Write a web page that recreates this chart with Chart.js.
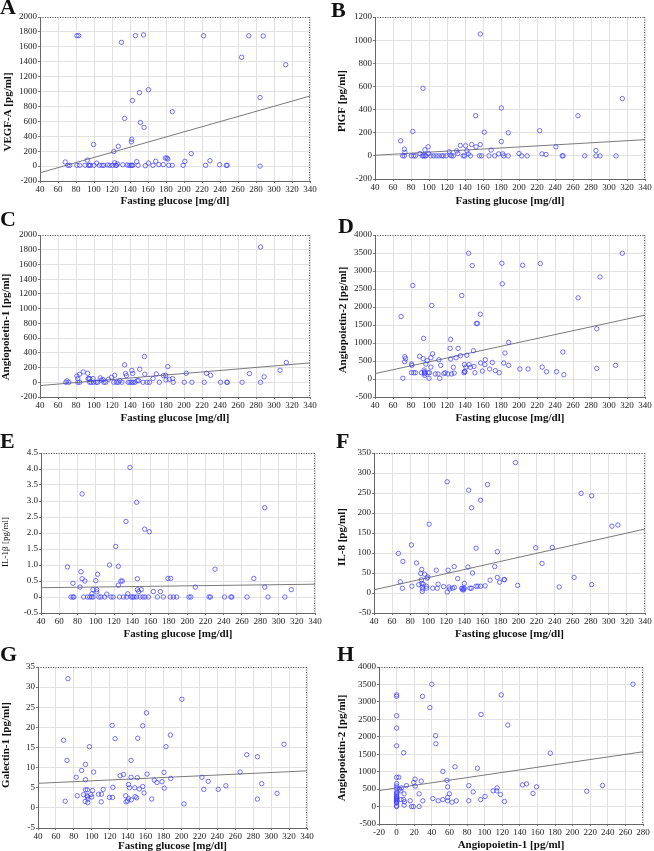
<!DOCTYPE html>
<html>
<head>
<meta charset="utf-8">
<script src="https://cdn.jsdelivr.net/npm/chart.js@4.4.1/dist/chart.umd.min.js"></script>
<style>
  body { margin: 0; background: #fff; }
  #app { position: relative; width: 654px; height: 851px; overflow: hidden; }
  #app canvas { position: absolute; }
  .tag { position: absolute; font: bold 22px "Liberation Serif", serif; color: #111; line-height: 1; }
</style>
</head>
<body>
<div id="app"></div>
<script>
// --- data: [x, y] per patient ---
const glucoseTicks = [40, 60, 80, 100, 120, 140, 160, 180, 200, 220, 240, 260, 280, 300, 320, 340];
const ang1Ticks = [-20, 0, 20, 40, 60, 80, 100, 120, 140, 160, 180, 200, 220, 240, 260, 280];

const vegfTicks = [-200, 0, 200, 400, 600, 800, 1000, 1200, 1400, 1600, 1800, 2000];
const plgfTicks = [-200, 0, 200, 400, 600, 800, 1000, 1200];
const ang1YTicks = [-200, 0, 200, 400, 600, 800, 1000, 1200, 1400, 1600, 1800, 2000];
const ang2Ticks = [-500, 0, 500, 1000, 1500, 2000, 2500, 3000, 3500, 4000];
const il1Ticks = [-0.5, 0, 0.5, 1, 1.5, 2, 2.5, 3, 3.5, 4, 4.5];
const il8Ticks = [-50, 0, 50, 100, 150, 200, 250, 300, 350];
const galTicks = [-5, 0, 5, 10, 15, 20, 25, 30, 35];

const vegfPoints = [[68,55],[71,10],[73,10],[81,1750],[83,1750],[81,10],[84,10],[90,10],[92.5,80],[94,10],[95,10],[96,10],
  [99.5,290],[100,10],[103,40],[106,10],[109,10],[111,10],[115,15],[117.6,10],[120.5,10],[122,195],[123,45],[124,10],
  [125,10],[126,30],[127,265],[130.5,1660],[132,18],[134,640],[137,15],[139,10],[141,10],[142,10],[143,10],[141.5,325],
  [142,360],[142.7,880],[146,1750],[147.5,60],[149,10],[150.5,985],[151.6,585],[155,1760],[155.6,520],[157,5],
  [160.5,1025],[160.5,40],[165.6,10],[168.5,65],[172,20],[177,20],[179.3,108],[181,108],[182,95],[183,10],[187,10],
  [187,730],[199,10],[201,63],[208,167],[221.7,1748],[224,10],[228.8,72],[239.5,18],[247,10],[248,10],[264,1460],
  [272,1748],[284.5,920],[284.5,0],[288,1745],[313,1360]];
const vegfFit = [[40,-90],[340,940]];

const plgfPoints = [[68.5,130],[70.7,0],[72.6,0],[72.6,58],[73.3,30],[82,211],[80.5,0],[83,0],[85,0],[90,20],[93.3,584],
  [92.5,0],[94,0],[95.5,0],[96.5,0],[95.5,52],[99,78],[99.5,20],[102,0],[105,0],[108,0],[111,0],[114,0],[116,0],[119,0],
  [122.6,35],[123.5,8],[125,0],[127,0],[130.7,43],[132,20],[134.8,90],[138,0],[139.5,0],[140.7,87],[142.2,43],
  [143.7,17],[146,0],[147.4,98],[151.8,347],[152.2,78],[156,0],[158.5,0],[157,1053],[157,98],[161.5,205],[166.7,0],
  [169,50],[173,0],[177.4,17],[180.4,414],[180.4,124],[182,17],[183,0],[188,200],[188,0],[200,20],[203,0],[209,0],
  [223,217],[225.5,17],[230,12],[241,78],[248,0],[249,0],[265.5,347],[273,0],[285.5,46],[285.5,0],[290,0],[307.8,0],
  [314.8,495]];
const plgfFit = [[40,5],[340,140]];

const ang1Points = [[68.7,0],[70,20],[72,0],[81,85],[82,0],[82,50],[84,0],[84,110],[88,140],[93,122],[93.5,50],
  [94.3,50],[95.3,50],[95.3,0],[97,0],[99,50],[99.6,0],[102.5,0],[104,0],[107,60],[108,30],[110,36],[111,0],[113,0],
  [116,40],[119.5,68],[122,0],[123,95],[125,0],[127,0],[128.7,22],[131,0],[134,236],[135,118],[136,90],[138,0],[140,0],
  [142,0],[143.5,0],[142,160],[143,120],[145.6,0],[148,22],[149.5,22],[150.8,177],[154.5,0],[156,350],[156.4,110],
  [159,0],[161.7,0],[165.6,50],[169.3,113],[172.6,0],[177,90],[179.6,95],[182,213],[180,32],[183.7,40],[187.4,50],
  [188,0],[200.3,0],[202.5,122],[208.8,0],[222.5,0],[225,122],[229.5,95],[240.6,0],[247.5,0],[248.2,0],[264.6,0],
  [272.7,118],[285,1837],[285,0],[289,73],[306.7,163],[313.7,268]];
const ang1Fit = [[40,-45],[340,263]];

const ang2Points = [[69,1737],[71,20],[73,620],[73,480],[74,565],[80.5,415],[81,380],[82,2597],[80.5,175],[83,175],
  [85,175],[89.5,630],[91.6,175],[94,1128],[93.5,565],[94.5,250],[94.8,200],[95,150],[95.2,100],[95.5,175],[96.5,415],
  [98,510],[99,175],[100.5,175],[100,20],[102,330],[102,590],[103,2043],[104,700],[107,140],[110,140],[111,535],
  [112,20],[113,380],[116.5,150],[118,175],[121,140],[123.5,850],[124,1100],[124,555],[125,140],[127,325],[128,165],
  [130,590],[132.3,850],[135,650],[136.4,2320],[139.4,400],[138.8,175],[139.5,210],[140,200],[141,330],[142,660],
  [144,3494],[144.5,400],[146,325],[148,3150],[149.4,785],[150,350],[151,175],[152.7,1543],[153.8,1543],[157,1800],
  [157.4,445],[159.3,220],[162,400],[162.6,535],[167.4,277],[170.4,460],[173.7,230],[178,175],[181,3215],[181.5,2643],
  [183,445],[184.4,720],[188.5,1017],[188.5,380],[201,277],[204,3160],[210,277],[223.6,3207],[225.8,330],[230.6,203],
  [241.7,203],[248.7,750],[249.8,120],[265.7,2255],[286.4,1395],[286.4,295],[290,2837],[307.4,380],[314.8,3494]];
const ang2Fit = [[40,150],[340,1775]];

const il1Points = [[69,0.94],[72.8,0],[75,0],[76,0],[75,0.43],[83.8,0.79],[85,3.22],[85,0.57],[82.7,0.31],[88,0.5],
  [86.6,0],[91,0],[93.4,0],[95.5,0],[97,0],[95.8,0.1],[97,0.23],[100,0.51],[101,0.23],[101,0.16],[102,0.71],[103.4,0],
  [105.6,0],[109.7,0],[112,0.09],[115,1.0],[116.7,0],[119,0],[121.8,1.58],[124.7,0.96],[124.7,0.37],[127.5,0.5],
  [129,0.5],[126,0],[130.3,0],[133,2.36],[135,0.1],[133.8,0],[138.6,0],[137.4,4.05],[140.3,0],[142,0],[144.7,0],
  [144.7,2.96],[145.5,0.57],[145.5,0.23],[147,0.17],[148.5,0],[149.8,0.23],[151.7,0],[154,0],[157.6,0],[153.5,2.12],
  [158.6,2.04],[163,0.17],[167.4,0],[170.7,0.17],[174,0],[179,0.58],[182,0.58],[181.5,0],[185,0],[188.6,0],[202,0],
  [204,0],[209,0.31],[224,0],[225.5,0],[230.5,0.87],[241,0],[248,0],[249,0],[265.5,0],[273,0.58],[284.9,2.79],
  [285,0.31],[288.5,0],[307,0],[314,0.23]];
const il1Fit = [[40,0.29],[340,0.4]];

const il8Points = [[67,99],[69,28],[71.4,12],[72,79],[81.4,120],[82,17],[87,75],[89.5,21],[91.7,49],[92.8,59],
  [92.5,33],[93,24],[93.5,15],[94,10],[93.5,4],[94.5,22],[96,47],[98,17],[98.3,12],[98.7,37],[99.5,40],[101,172],
  [105,12],[109,57],[110,12],[111,22],[117,16],[121,278],[121,2.5],[122,57],[123,15],[123.8,10],[127,12],[128.8,66],
  [129,14],[132.6,36],[137,12],[138.5,12],[139.3,8],[140,12],[138,8],[140,24],[144.8,257],[144,65],[146.3,12],
  [147.8,12],[148,213],[149,50],[153,112],[153,17],[155,17],[158,232],[158,17],[163,18],[165.6,271],[168.5,32],
  [173.6,66],[176.5,103],[176.5,39],[179,27],[184,34],[184.4,33],[196.6,326],[199,19],[219,113],[226,74],[237.4,114],
  [245,15],[261.5,39],[269.3,249],[281,243],[281,21],[303.4,167],[310,170]];
const il8Fit = [[40,8],[340,160]];

const galPoints = [[68.5,16.8],[70.4,1.66],[72.3,11.8],[73.4,32.1],[82.6,7.6],[83.7,3],[88.6,9.3],[90.8,3.3],[93,10.8],
  [93,7],[93,4.5],[92.6,1.6],[94.5,3.0],[95.2,2.7],[95.6,2.2],[95,4.5],[95.5,1.3],[97.4,15.2],[99,3.3],[100,2.7],
  [100.8,4.3],[102,8.9],[107.5,3.4],[110.5,1.5],[110.8,3.4],[112.7,4.6],[119.7,2.6],[122.7,20.5],[123,2.6],[123.5,5.1],
  [126,17.2],[131.6,8],[135.3,8.3],[137.8,3],[138.3,1.5],[139.7,1.7],[141,5.8],[142,5],[141,2.3],[143.8,11.8],
  [143.8,7.6],[144,2],[147.9,5],[148.3,2.8],[150,2.5],[151.2,17.3],[150.8,7.5],[153,4.7],[156.8,20.4],[156.8,5.3],
  [158.3,3.7],[161,23.6],[161.6,8.4],[166.8,2.2],[169.7,6.9],[172.6,6.3],[178.3,6.5],[180.5,8.8],[180.9,4.9],
  [182.7,15.2],[187.6,18.1],[188,7.3],[200.5,27],[202.8,1],[222.8,7.6],[225,4.6],[229.8,6.6],[241,4.6],[249.5,5.5],
  [265.4,8.9],[272.8,13.2],[284.7,12.7],[284.7,2.2],[289.5,6],[306.6,3.6],[314.4,15.8]];
const galFit = [[40,6.1],[340,9.2]];

const angPairPoints = [[0,3200],[0,3160],[0,2600],[0,2250],[0,1740],[0,840],[0,660],[0,590],[0,520],[0,420],[0,380],
  [0,350],[0,300],[0,280],[0,250],[0,220],[0,200],[0,180],[0,150],[0,120],[0,100],[0,20],[0,0],[2.4,840],[3.2,500],
  [4.7,450],[5,200],[5.5,535],[8,1540],[8,200],[8.9,135],[8.5,365],[8.5,40],[11.2,600],[15.4,165],[17,0],[19,0],
  [19.5,690],[21,785],[21,585],[25.6,365],[25.6,0],[28,730],[29.4,3160],[29.8,165],[37.8,2835],[40,3505],[41.2,230],
  [44.3,2030],[44.6,1800],[47.3,165],[52.6,1005],[52.6,200],[57.2,750],[58,565],[58,260],[58,165],[60,365],[63,125],
  [66.3,1140],[67.8,165],[82,600],[82,165],[87,420],[96,2640],[95.6,200],[91.8,1100],[100.5,290],[109.7,450],
  [113.8,450],[114.2,535],[118,345],[119,3200],[122.6,145],[126.4,2335],[143,620],[147.7,650],[155,375],[159,565],
  [174.7,1530],[216,440],[234,605],[268.6,3505]];
const angPairFit = [[-20,460],[280,1570]];

const glucoseTitle = "Fasting glucose [mg/dl]";

// --- panel layout (page pixels: box = canvas, plot = chart area) ---
const panels = [
  { tag: "A", tagPos: [0, -4], points: vegfPoints, fit: vegfFit, xTicks: glucoseTicks, yTicks: vegfTicks,
    xTitle: glucoseTitle, yTitle: "VEGF-A [pg/ml]", box: [0, 0, 327, 212], plot: [40, 17, 310, 181], yTitleAt: [8, 112], xTitleY: 201 },
  { tag: "B", tagPos: [331, -1], points: plgfPoints, fit: plgfFit, xTicks: glucoseTicks, yTicks: plgfTicks,
    xTitle: glucoseTitle, yTitle: "PlGF [pg/ml]", box: [327, 0, 327, 212], plot: [375, 17, 645, 179], yTitleAt: [342, 101], xTitleY: 201 },
  { tag: "C", tagPos: [0, 208], points: ang1Points, fit: ang1Fit, xTicks: glucoseTicks, yTicks: ang1YTicks,
    xTitle: glucoseTitle, yTitle: "Angiopoietin-1 [pg/ml]", box: [0, 212, 327, 213], plot: [40, 235, 310, 397], yTitleAt: [6, 327], xTitleY: 418 },
  { tag: "D", tagPos: [338, 215], points: ang2Points, fit: ang2Fit, xTicks: glucoseTicks, yTicks: ang2Ticks,
    xTitle: glucoseTitle, yTitle: "Angiopoietin-2 [pg/ml]", box: [327, 212, 327, 213], plot: [375, 235, 645, 397], yTitleAt: [343, 320], xTitleY: 418 },
  { tag: "E", tagPos: [0, 430], points: il1Points, fit: il1Fit, xTicks: glucoseTicks, yTicks: il1Ticks, small: true,
    xTitle: glucoseTitle, yTitle: "IL-1β [pg/ml]", box: [0, 425, 327, 215], plot: [41, 453, 315, 613], yTitleAt: [6, 542], xTitleY: 634 },
  { tag: "F", tagPos: [336, 430], points: il8Points, fit: il8Fit, xTicks: glucoseTicks, yTicks: il8Ticks,
    xTitle: glucoseTitle, yTitle: "IL-8 [pg/ml]", box: [327, 425, 327, 215], plot: [374, 453, 645, 613], yTitleAt: [342, 537], xTitleY: 634 },
  { tag: "G", tagPos: [0, 643], points: galPoints, fit: galFit, xTicks: glucoseTicks, yTicks: galTicks,
    xTitle: glucoseTitle, yTitle: "Galectin-1 [pg/ml]", box: [0, 640, 327, 211], plot: [38, 667, 307, 828], yTitleAt: [6, 745], xTitleY: 846 },
  { tag: "H", tagPos: [337, 643], points: angPairPoints, fit: angPairFit, xTicks: ang1Ticks, yTicks: ang2Ticks,
    xTitle: "Angiopoietin-1 [pg/ml]", yTitle: "Angiopoietin-2 [pg/ml]", box: [327, 640, 327, 211], plot: [379, 667, 643, 824], yTitleAt: [342, 748], xTitleY: 845 },
];

const SERIF = '"Liberation Serif", "Times New Roman", serif';
const POINT_COLOR = "rgba(60,60,255,0.9)";
const GRID = "#e2e2e2";

// dotted top/right frame plus axis titles
const frame = {
  id: "frame",
  afterDraw(chart, args, opts) {
    const { ctx, chartArea: a } = chart;
    ctx.save();
    ctx.strokeStyle = "#555";
    ctx.lineWidth = 1;
    ctx.setLineDash([1, 1.5]);
    ctx.beginPath();
    ctx.moveTo(a.left, a.top + 0.5);
    ctx.lineTo(a.right, a.top + 0.5);
    ctx.moveTo(a.right - 0.5, a.top);
    ctx.lineTo(a.right - 0.5, a.bottom);
    ctx.stroke();
    ctx.setLineDash([]);
    ctx.fillStyle = "#111";
    ctx.textAlign = "center";
    ctx.textBaseline = "middle";
    ctx.font = `bold 11px ${SERIF}`;
    ctx.fillText(opts.xTitle, (a.left + a.right) / 2, opts.xTitleY);
    ctx.translate(opts.yTitleX, opts.yTitleY);
    ctx.rotate(-Math.PI / 2);
    ctx.font = opts.small ? `9px ${SERIF}` : `bold 11px ${SERIF}`;
    ctx.fillText(opts.yTitle, 0, 0);
    ctx.restore();
  },
};

function axis(ticks, fitSize, isX, fmt) {
  return {
    type: "linear",
    min: ticks[0],
    max: ticks[ticks.length - 1],
    afterBuildTicks: (s) => { s.ticks = ticks.map((v) => ({ value: v })); },
    afterFit: (s) => { if (isX) s.height = fitSize; else s.width = fitSize; },
    ticks: {
      autoSkip: false,
      maxRotation: 0,
      padding: 1,
      color: "#222",
      font: { family: SERIF, size: 9 },
      callback: fmt,
    },
    grid: { color: GRID, tickColor: "#777", tickLength: 2 },
    border: { color: "#666", width: 1 },
  };
}

function renderPanel(app, p) {
  const [bx, by, bw, bh] = p.box;
  const [pl, pt, pr, pb] = p.plot;
  const canvas = document.createElement("canvas");
  canvas.width = bw;
  canvas.height = bh;
  canvas.style.left = bx + "px";
  canvas.style.top = by + "px";
  app.appendChild(canvas);

  const tag = document.createElement("div");
  tag.className = "tag";
  tag.textContent = p.tag;
  tag.style.left = p.tagPos[0] + "px";
  tag.style.top = p.tagPos[1] + "px";
  app.appendChild(tag);

  const yFmt = p.small ? (v) => (v === 0 ? "0" : v.toFixed(1)) : (v) => String(v);
  new Chart(canvas, {
    type: "scatter",
    data: {
      datasets: [
        {
          data: p.points.map(([x, y]) => ({ x, y })),
          pointStyle: "circle",
          pointRadius: 2.2,
          borderWidth: 0.8,
          borderColor: POINT_COLOR,
          backgroundColor: "rgba(0,0,0,0)",
        },
        {
          type: "line",
          data: p.fit.map(([x, y]) => ({ x, y })),
          borderColor: "#7a7a7a",
          borderWidth: 1,
          pointRadius: 0,
          fill: false,
        },
      ],
    },
    options: {
      responsive: false,
      animation: false,
      events: [],
      layout: { padding: { top: pt - by, right: bx + bw - pr, left: 0, bottom: 0 } },
      plugins: {
        legend: { display: false },
        tooltip: { enabled: false },
        frame: {
          xTitle: p.xTitle, xTitleY: p.xTitleY - by,
          yTitle: p.yTitle, yTitleX: p.yTitleAt[0] - bx, yTitleY: p.yTitleAt[1] - by,
          small: !!p.small,
        },
      },
      scales: {
        x: axis(p.xTicks, by + bh - pb, true, (v) => String(v)),
        y: axis(p.yTicks, pl - bx, false, yFmt),
      },
    },
    plugins: [frame],
  });
}

const app = document.getElementById("app");
panels.forEach((p) => renderPanel(app, p));
</script>
</body>
</html>
